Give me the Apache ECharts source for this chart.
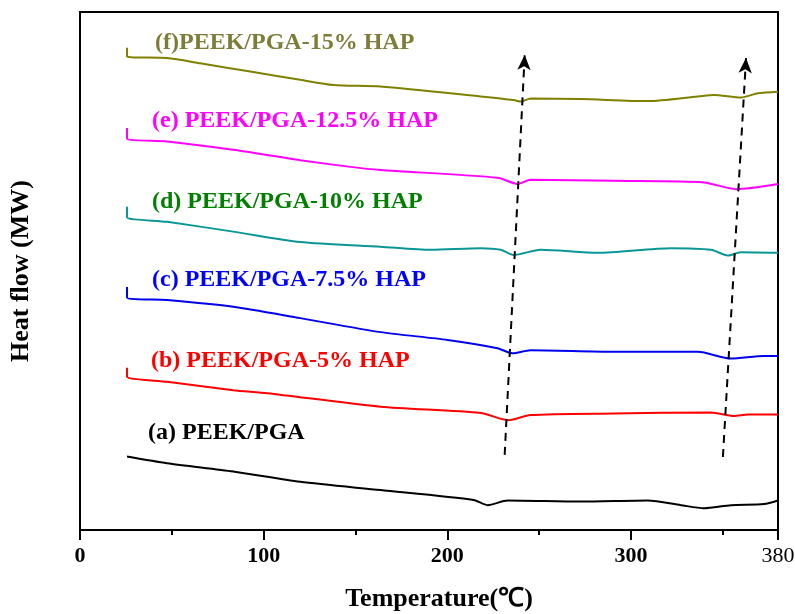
<!DOCTYPE html>
<html>
<head>
<meta charset="utf-8">
<title>DSC curves</title>
<script src="https://cdn.jsdelivr.net/npm/echarts@6/dist/echarts.min.js"></script>
<style>
  html, body { margin: 0; padding: 0; background: #fff; }
  #main { width: 795px; height: 614px; }
</style>
</head>
<body>
<div id="main"></div>
<script>
// x ticks (Temperature, ℃)
var xTicks = [0, 100, 200, 300, 380];

// curves: [temperature, heat flow (arb. units)]
var curveA = [[25.6, 14.2], [47.4, 12.9], [83.4, 11.3], [119.9, 9.3], [163.6, 7.7], [214.3, 5.8], [221.9, 4.8],
  [232.8, 5.7], [272.6, 5.5], [309.1, 5.7], [327.1, 4.8], [339.7, 4.2], [354.4, 4.8], [372.4, 5.0], [380, 5.7]];
var curveB = [[25.6, 31.3], [25.6, 29.6], [47.4, 28.6], [83.4, 27.0], [102.0, 26.4], [163.6, 23.8], [218.1, 22.6],
  [233.3, 21.2], [245.3, 22.2], [290.6, 22.5], [343.5, 22.7], [356.0, 22.0], [363.6, 22.3], [380, 22.3]];
var curveC = [[25.6, 46.9], [25.6, 44.9], [47.4, 44.4], [83.4, 43.1], [119.9, 40.9], [163.6, 38.2], [200.1, 36.7],
  [227.3, 35.1], [235.5, 34.1], [245.3, 34.7], [290.6, 34.4], [336.4, 34.4], [354.4, 33.1], [372.4, 33.6], [380, 33.6]];
var curveD = [[25.6, 62.4], [25.6, 60.4], [47.4, 59.5], [83.4, 57.6], [119.9, 55.6], [163.6, 54.7], [190.8, 54.1],
  [218.1, 54.4], [229.0, 54.1], [236.1, 53.1], [250.8, 54.1], [281.9, 53.5], [321.7, 54.4], [343.5, 54.1],
  [352.7, 53.0], [359.8, 53.6], [380, 53.5]];
var curveE = [[25.6, 77.6], [25.6, 75.6], [47.4, 75.0], [83.4, 73.4], [119.9, 71.4], [147.2, 70.1], [163.6, 69.5],
  [227.3, 68.0], [238.3, 66.8], [245.3, 67.6], [290.6, 67.4], [339.7, 67.1], [357.1, 65.8], [380, 66.8]];
var curveF = [[25.6, 93.1], [25.6, 91.4], [47.4, 91.1], [65.4, 90.1], [92.7, 88.5], [119.9, 86.9], [137.9, 85.9],
  [163.6, 85.6], [218.1, 83.7], [236.1, 83.0], [239.9, 82.7], [245.3, 83.3], [272.6, 83.2], [309.1, 82.8],
  [336.4, 83.7], [345.1, 84.0], [359.8, 83.5], [369.1, 84.3], [380, 84.6]];

// dashed arrows (start -> tip)
var arrowLeft = [[231.2, 14.5], [242.1, 91.7]];
var arrowRight = [[350.0, 14.1], [362.6, 91.1]];

var labelNames = ['(a) PEEK/PGA', '(b) PEEK/PGA-5% HAP', '(c) PEEK/PGA-7.5% HAP',
  '(d) PEEK/PGA-10% HAP', '(e) PEEK/PGA-12.5% HAP', '(f)PEEK/PGA-15% HAP'];

var serif = "'Times New Roman', 'Liberation Serif', serif";

var chartDom = document.getElementById('main');
var myChart = echarts.init(chartDom);
var option;

function curve(data, color) {
  return {
    type: 'line',
    data: data,
    xAxisIndex: 0,
    showSymbol: false,
    smooth: 0.25,
    lineStyle: { color: color, width: 2 },
    animation: false
  };
}

function label(text, left, top, color) {
  return {
    type: 'text',
    left: left,
    top: top,
    style: {
      text: text,
      fill: color,
      font: 'bold 24px ' + serif
    }
  };
}

var arrowSeries = curve([], '#000');
arrowSeries.markLine = {
  silent: true,
  symbol: ['none', 'arrow'],
  symbolSize: [10, 15],
  label: { show: false },
  lineStyle: { color: '#000', width: 2, type: [8, 6] },
  data: [
    [{ coord: arrowLeft[0] }, { coord: arrowLeft[1] }],
    [{ coord: arrowRight[0] }, { coord: arrowRight[1] }]
  ]
};

option = {
  backgroundColor: '#fff',
  grid: {
    left: 80, right: 17, top: 12, bottom: 84,
    outerBoundsMode: 'none',
    containLabel: false,
    show: true, borderColor: '#000', borderWidth: 2
  },
  xAxis: [
    {
      type: 'value',
      min: xTicks[0],
      max: xTicks[xTicks.length - 1],
      interval: 100,
      name: 'Temperature(℃)',
      nameLocation: 'middle',
      nameGap: 56,
      nameTextStyle: { fontFamily: serif, fontWeight: 'bold', fontSize: 26, color: '#000', padding: [0, 0, 0, 20] },
      axisLine: { lineStyle: { color: '#000', width: 2 } },
      axisTick: { length: 10, lineStyle: { color: '#000', width: 2 } },
      splitLine: { show: false },
      axisLabel: {
        margin: 15,
        formatter: function (v) {
          return v === 380 ? '{n|' + v + '}' : '{b|' + v + '}';
        },
        rich: {
          b: { fontFamily: serif, fontWeight: 'bold', fontSize: 22, color: '#000' },
          n: { fontFamily: serif, fontWeight: 'normal', fontSize: 22, color: '#000' }
        }
      }
    },
    {
      // unlabelled half ticks
      type: 'value',
      position: 'bottom',
      min: xTicks[0],
      max: xTicks[xTicks.length - 1],
      interval: 50,
      axisLine: { show: false },
      axisTick: { length: 5, lineStyle: { color: '#000', width: 2 } },
      axisLabel: { show: false },
      splitLine: { show: false }
    }
  ],
  yAxis: {
    type: 'value',
    min: 0,
    max: 100,
    name: 'Heat flow (MW)',
    nameLocation: 'middle',
    nameGap: 46,
    nameTextStyle: { fontFamily: serif, fontWeight: 'bold', fontSize: 26, color: '#000' },
    axisLine: { show: true, lineStyle: { color: '#000', width: 2 } },
    axisTick: { show: false },
    axisLabel: { show: false },
    splitLine: { show: false }
  },
  graphic: [
    label(labelNames[5], 155, 31, '#7d7d3a'),
    label(labelNames[4], 152, 109, '#ff00ff'),
    label(labelNames[3], 152, 190, '#008000'),
    label(labelNames[2], 152, 268, '#0000ff'),
    label(labelNames[1], 151, 349, '#ff0000'),
    label(labelNames[0], 148, 421, '#000')
  ],
  series: [
    curve(curveA, '#000000'),
    curve(curveB, '#ff0000'),
    curve(curveC, '#0000ee'),
    curve(curveD, '#0a9696'),
    curve(curveE, '#ff00ff'),
    curve(curveF, '#808000'),
    arrowSeries
  ]
};

option && myChart.setOption(option);
</script>
</body>
</html>
